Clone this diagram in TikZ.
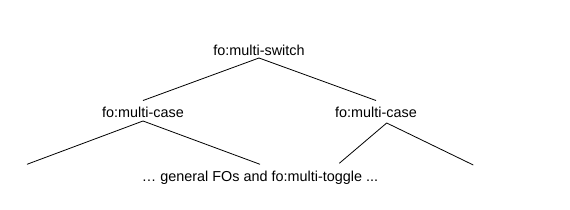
\documentclass[tikz,border=0pt]{standalone}
\usepackage{fontspec}
\setmainfont{Liberation Sans}
\usetikzlibrary{positioning}

\begin{document}
\begin{tikzpicture}[x=1pt,y=-1pt,
    elem/.style={inner sep=0pt,font=\fontsize{14.4}{17}\selectfont},
    branch/.style={line width=0.8pt}]
  \useasboundingbox (0,0) rectangle (570,209);
  % element tree
  \node[elem] (switch) at (259,50) {fo:multi-switch};
  \node[elem] (lcase) at (143,112) {fo:multi-case};
  \node[elem] (rcase) at (376,112) {fo:multi-case};
  \node[elem] (general) at (260,178) {… general FOs and fo:multi-toggle ...};
  % free ends of the lower branches
  \coordinate (lleaf) at (27,164.3);
  \coordinate (lmid) at (260,164.3);
  \coordinate (rmid) at (339.3,163.3);
  \coordinate (rleaf) at (473.3,165);
  % branches
  \draw[branch] ([yshift=-2.5pt]switch.south) -- ([yshift=6pt]lcase.north);
  \draw[branch] ([yshift=-2.5pt]switch.south) -- ([yshift=6pt]rcase.north);
  \draw[branch] (lleaf) -- ([yshift=-3.5pt]lcase.south) -- (lmid);
  \draw[branch] (rmid) -- ([xshift=10.7pt,yshift=-5.5pt]rcase.south) -- (rleaf);
\end{tikzpicture}
\end{document}
